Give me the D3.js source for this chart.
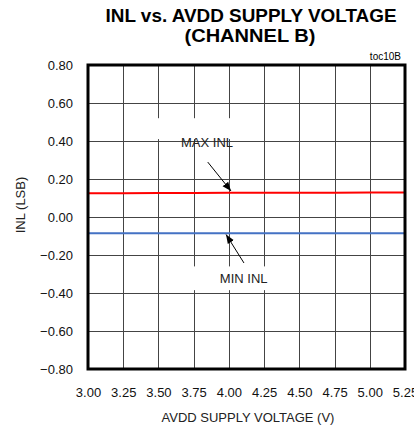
<!DOCTYPE html>
<html><head><meta charset="utf-8">
<script src="https://cdn.jsdelivr.net/npm/d3@7"></script>
<style>
html,body{margin:0;padding:0;background:#fff;}
svg{display:block;font-family:"Liberation Sans",Arial,sans-serif;}
</style></head>
<body><svg id="c" width="414" height="431"></svg>
<script>
const supplyVoltage = [3.00, 3.25, 3.50, 3.75, 4.00, 4.25, 4.50, 4.75, 5.00, 5.25];
const maxINL = [0.125, 0.125, 0.126, 0.126, 0.127, 0.127, 0.128, 0.128, 0.129, 0.129];
const minINL = [-0.085, -0.085, -0.085, -0.085, -0.085, -0.086, -0.086, -0.086, -0.086, -0.086];
const xTicks = [3.00, 3.25, 3.50, 3.75, 4.00, 4.25, 4.50, 4.75, 5.00, 5.25];
const yTicks = [-0.80, -0.60, -0.40, -0.20, 0.00, 0.20, 0.40, 0.60, 0.80];

const svg = d3.select("#c");
const L = 88, R = 405, T = 65, B = 369;
const x = d3.scaleLinear().domain([3.0, 5.25]).range([L, R]);
const y = d3.scaleLinear().domain([-0.8, 0.8]).range([B, T]);

// title
svg.append("text").attr("x", 251).attr("y", 21.5).attr("text-anchor", "middle")
  .attr("font-weight", "bold").attr("font-size", 17.5).attr("textLength", 291)
  .attr("lengthAdjust", "spacingAndGlyphs").text("INL vs. AVDD SUPPLY VOLTAGE");
svg.append("text").attr("x", 250).attr("y", 41.5).attr("text-anchor", "middle")
  .attr("font-weight", "bold").attr("font-size", 17.5).attr("textLength", 131)
  .attr("lengthAdjust", "spacingAndGlyphs").text("(CHANNEL B)");
svg.append("text").attr("x", 401).attr("y", 60).attr("text-anchor", "end")
  .attr("font-size", 10).text("toc10B");

// grid
const grid = svg.append("g").attr("stroke", "#444").attr("stroke-width", 1);
xTicks.slice(1, -1).forEach(v => grid.append("line")
  .attr("x1", Math.round(x(v)) + 0.5).attr("x2", Math.round(x(v)) + 0.5).attr("y1", T).attr("y2", B));
yTicks.slice(1, -1).forEach(v => grid.append("line")
  .attr("y1", Math.round(y(v)) + 0.5).attr("y2", Math.round(y(v)) + 0.5).attr("x1", L).attr("x2", R));

// axes (labels only)
const xAxis = svg.append("g").attr("transform", `translate(0,${B})`)
  .call(d3.axisBottom(x).tickValues(xTicks).tickFormat(d3.format(".2f")).tickSize(0).tickPadding(19));
const yAxis = svg.append("g").attr("transform", `translate(${L},0)`)
  .call(d3.axisLeft(y).tickValues(yTicks).tickFormat(d3.format(".2f")).tickSize(0).tickPadding(15));
[xAxis, yAxis].forEach(a => {
  a.select(".domain").remove();
  a.selectAll("text").attr("font-size", 13).attr("fill", "#111")
    .attr("font-family", "'Liberation Sans', Arial, sans-serif");
});

// data lines
const line = d3.line().x((d, i) => x(supplyVoltage[i])).y(d => y(d));
svg.append("path").datum(maxINL).attr("d", line).attr("fill", "none")
  .attr("stroke", "#ff0000").attr("stroke-width", 2);
svg.append("path").datum(minINL).attr("d", line).attr("fill", "none")
  .attr("stroke", "#4472c4").attr("stroke-width", 2);

// annotations
function label(txt, cx, by, bx0, bx1, by0, by1) {
  svg.append("rect").attr("x", x(bx0)).attr("width", x(bx1) - x(bx0))
    .attr("y", y(by0)).attr("height", y(by1) - y(by0)).attr("fill", "#fff");
  svg.append("text").attr("x", x(cx)).attr("y", y(by)).attr("text-anchor", "middle")
    .attr("font-size", 13).attr("fill", "#222").text(txt);
}
label("MAX INL", 3.845, 0.37, 3.48, 4.21, 0.52, 0.41);
label("MIN INL", 4.105, -0.345, 3.70, 4.42, -0.26, -0.385);

svg.append("defs").append("marker").attr("id", "ah").attr("viewBox", "0 0 10 10")
  .attr("refX", 10).attr("refY", 5).attr("markerWidth", 9).attr("markerHeight", 9)
  .attr("markerUnits", "userSpaceOnUse").attr("orient", "auto")
  .append("path").attr("d", "M0,1 L10,5 L0,9 Z").attr("fill", "#000");
function arrow(x0, y0, x1, y1) {
  svg.append("line").attr("x1", x(x0)).attr("y1", y(y0)).attr("x2", x(x1)).attr("y2", y(y1))
    .attr("stroke", "#000").attr("stroke-width", 1).attr("marker-end", "url(#ah)");
}
arrow(3.85, 0.289, 4.015, 0.137);
arrow(4.107, -0.242, 3.98, -0.092);

// frame
svg.append("rect").attr("x", L).attr("y", T).attr("width", R - L).attr("height", B - T)
  .attr("fill", "none").attr("stroke", "#000").attr("stroke-width", 3);

// axis titles
svg.append("text").attr("x", 248).attr("y", 422).attr("text-anchor", "middle")
  .attr("font-size", 13).attr("fill", "#222").text("AVDD SUPPLY VOLTAGE  (V)");
svg.append("text").attr("transform", "translate(25,205) rotate(-90)").attr("text-anchor", "middle")
  .attr("font-size", 13).attr("fill", "#222").text("INL  (LSB)");
</script></body></html>
